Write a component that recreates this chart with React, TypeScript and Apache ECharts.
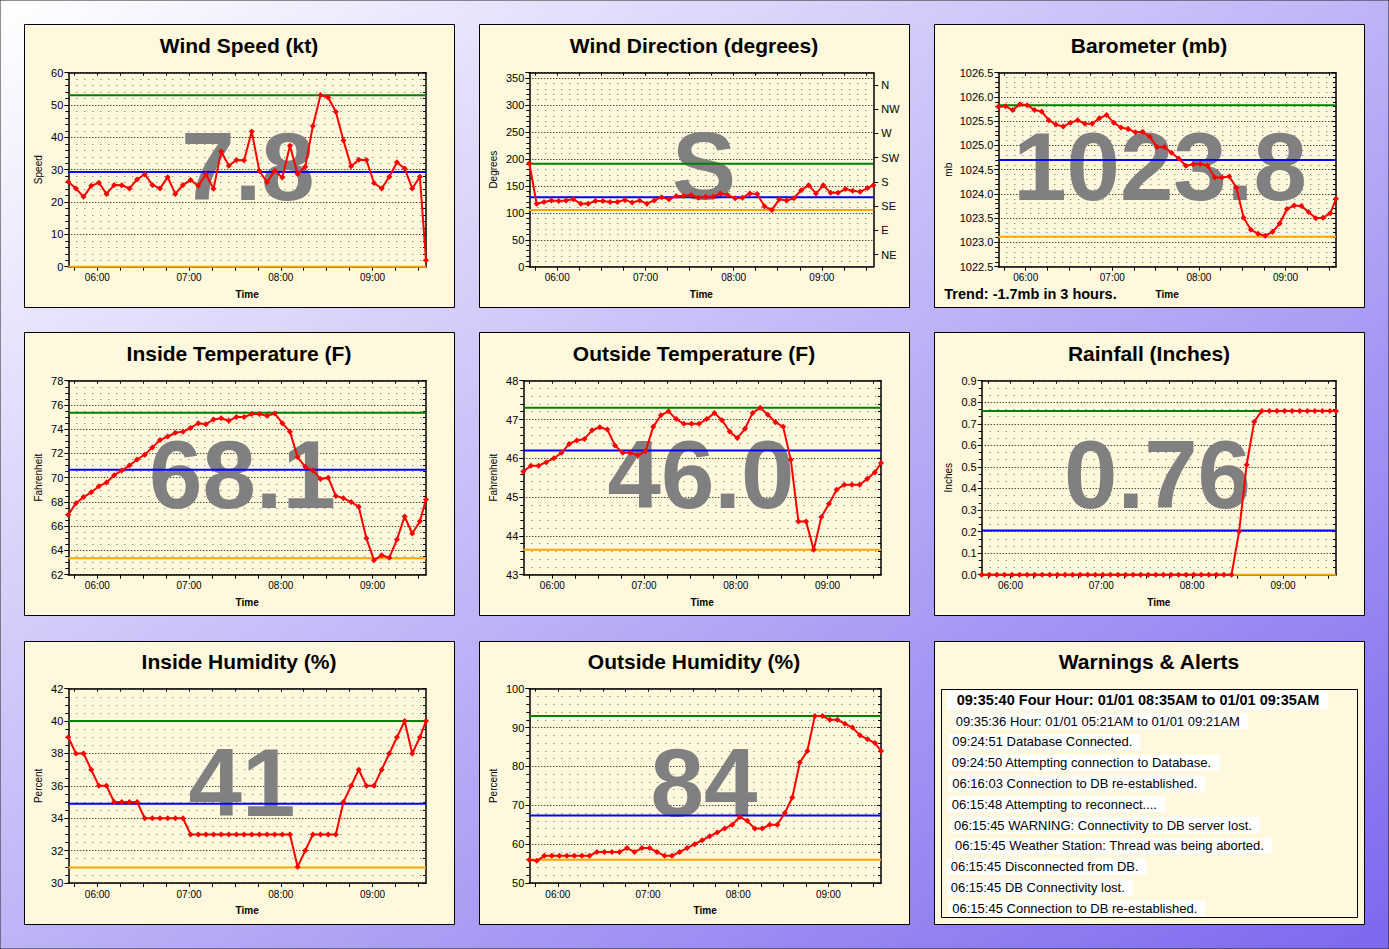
import React, { useEffect, useRef } from "react";
import * as echarts from "echarts";

// ---------- DATA ----------
const TIMES = [
  "05:41", "05:46", "05:51", "05:56",
  "06:01", "06:06", "06:11", "06:16", "06:21", "06:26", "06:31", "06:36", "06:41", "06:46", "06:51", "06:56",
  "07:01", "07:06", "07:11", "07:16", "07:21", "07:26", "07:31", "07:36", "07:41", "07:46", "07:51", "07:56",
  "08:01", "08:06", "08:11", "08:16", "08:21", "08:26", "08:31", "08:36", "08:41", "08:46", "08:51", "08:56",
  "09:01", "09:06", "09:11", "09:16", "09:21", "09:26", "09:31", "09:35",
];
const X_LABELS = ["06:00", "07:00", "08:00", "09:00"];

const WIND_SPEED = [
  26.3, 24.2, 21.6, 25, 26, 22.5, 25.3, 25.2, 24.2, 27,
  28.6, 25.3, 24.2, 27.7, 22.5, 25.3, 26.8, 25, 28.6, 24.1,
  35.6, 31.2, 33, 32.9, 41.8, 29.6, 26.1, 29.7, 27.6, 37.4,
  28.7, 30.9, 43.5, 53.1, 52.3, 47.9, 39, 31.1, 33.1, 33,
  25.9, 24.2, 27.8, 32.3, 30.4, 24.2, 27.8, 2,
];
const WIND_SPEED_REF = [53, 29.3, 0]; // max, average, min

const WIND_DIR = [
  192, 117, 120, 123, 122, 123, 125, 117, 117, 122,
  122, 120, 120, 124, 119, 123, 117, 123, 129, 125,
  131, 131, 133, 128, 130, 130, 136, 133, 127, 128,
  136, 135, 112, 105, 125, 123, 127, 142, 151, 136,
  151, 137, 137, 144, 141, 139, 146, 151,
];
const WIND_DIR_REF = [191, 129, 105];
const DIR_LABELS = ["NE", "E", "SE", "S", "SW", "W", "NW", "N"];
const DIR_VALUES = [22.5, 67.5, 112.5, 157.5, 202.5, 247.5, 292.5, 337.5];

const BAROMETER = [
  1025.8, 1025.81, 1025.73, 1025.85, 1025.83, 1025.73, 1025.7, 1025.52, 1025.43, 1025.39,
  1025.47, 1025.52, 1025.45, 1025.45, 1025.56, 1025.63, 1025.47, 1025.37, 1025.34, 1025.27,
  1025.28, 1025.18, 1024.97, 1024.97, 1024.85, 1024.73, 1024.58, 1024.61, 1024.62, 1024.58,
  1024.34, 1024.34, 1024.36, 1024.13, 1023.51, 1023.26, 1023.18, 1023.14, 1023.22, 1023.39,
  1023.69, 1023.76, 1023.75, 1023.63, 1023.5, 1023.51, 1023.6, 1023.9,
];
const BAROMETER_REF = [1025.83, 1024.7, 1023.12];
const TREND_TEXT = "Trend: -1.7mb in 3 hours.";

const INSIDE_TEMP = [
  66.95, 67.9, 68.4, 68.8, 69.3, 69.6, 70.2, 70.6, 71.0, 71.5,
  71.9, 72.5, 73.1, 73.4, 73.7, 73.8, 74.1, 74.5, 74.4, 74.8,
  74.9, 74.7, 75.0, 75.0, 75.25, 75.25, 75.1, 75.3, 74.5, 73.8,
  71.7, 70.9, 70.6, 69.9, 70.0, 68.5, 68.3, 68.0, 67.6, 65.0,
  63.2, 63.6, 63.4, 64.9, 66.8, 65.4, 66.4, 68.2,
];
const INSIDE_TEMP_REF = [75.35, 70.65, 63.35];

const OUTSIDE_TEMP = [
  45.66, 45.81, 45.81, 45.9, 46.0, 46.14, 46.37, 46.46, 46.5, 46.72,
  46.8, 46.74, 46.33, 46.14, 46.14, 46.08, 46.18, 46.81, 47.11, 47.21,
  47.01, 46.89, 46.89, 46.89, 47.01, 47.17, 46.98, 46.69, 46.52, 46.76,
  47.17, 47.3, 47.12, 46.93, 46.81, 45.96, 44.37, 44.37, 43.64, 44.49,
  44.83, 45.19, 45.32, 45.32, 45.32, 45.47, 45.64, 45.88,
];
const OUTSIDE_TEMP_REF = [47.3, 46.2, 43.64];

const RAINFALL = [
  0, 0, 0, 0, 0, 0, 0, 0, 0, 0,
  0, 0, 0, 0, 0, 0, 0, 0, 0, 0,
  0, 0, 0, 0, 0, 0, 0, 0, 0, 0,
  0, 0, 0, 0, 0.2, 0.51, 0.71, 0.76, 0.76, 0.76,
  0.76, 0.76, 0.76, 0.76, 0.76, 0.76, 0.76, 0.76,
];
const RAINFALL_REF = [0.76, 0.205, 0];

const INSIDE_HUM = [
  39, 38, 38, 37, 36, 36, 35, 35, 35, 35,
  34, 34, 34, 34, 34, 34, 33, 33, 33, 33,
  33, 33, 33, 33, 33, 33, 33, 33, 33, 33,
  31, 32, 33, 33, 33, 33, 35, 36, 37, 36,
  36, 37, 38, 39, 40, 38, 39, 40,
];
const INSIDE_HUM_REF = [40, 34.9, 30.95];

const OUTSIDE_HUM = [
  56, 55.7, 57, 57, 57, 57, 57, 57, 57, 58,
  58, 58, 58, 59, 58, 59, 59, 58, 57, 57,
  58, 59, 60, 61, 62, 63, 64, 65, 67, 66,
  64, 64, 65, 65, 68, 72, 81, 84, 93, 93,
  92, 92, 91, 90, 88, 87, 86, 84,
];
const OUTSIDE_HUM_REF = [93, 67.4, 56];

const ALERTS = [
  "09:35:40 Four Hour: 01/01 08:35AM to 01/01 09:35AM",
  "09:35:36 Hour: 01/01 05:21AM to 01/01 09:21AM",
  "09:24:51 Database Connected.",
  "09:24:50 Attempting connection to Database.",
  "06:16:03 Connection to DB re-established.",
  "06:15:48 Attempting to reconnect....",
  "06:15:45 WARNING: Connectivity to DB server lost.",
  "06:15:45 Weather Station: Thread was being aborted.",
  "06:15:45 Disconnected from DB.",
  "06:15:45 DB Connectivity lost.",
  "06:15:45 Connection to DB re-established.",
];

// ---------- CONFIG ----------
const CHARTS = [
  { title: "Wind Speed (kt)", yName: "Speed", values: WIND_SPEED, refs: WIND_SPEED_REF, big: "7.8", min: 0, max: 60, interval: 10, minor: 5, dec: 0 },
  { title: "Wind Direction (degrees)", yName: "Degrees", values: WIND_DIR, refs: WIND_DIR_REF, big: "S", min: 0, max: 360, interval: 50, minor: 5, dec: 0, hideMax: true, compass: true },
  { title: "Barometer (mb)", yName: "mb", values: BAROMETER, refs: BAROMETER_REF, big: "1023.8", min: 1022.5, max: 1026.5, interval: 0.5, minor: 5, dec: 1 },
  { title: "Inside Temperature (F)", yName: "Fahrenheit", values: INSIDE_TEMP, refs: INSIDE_TEMP_REF, big: "68.1", min: 62, max: 78, interval: 2, minor: 4, dec: 0 },
  { title: "Outside Temperature (F)", yName: "Fahrenheit", values: OUTSIDE_TEMP, refs: OUTSIDE_TEMP_REF, big: "46.0", min: 43, max: 48, interval: 1, minor: 5, dec: 0 },
  { title: "Rainfall (Inches)", yName: "Inches", values: RAINFALL, refs: RAINFALL_REF, big: "0.76", min: 0, max: 0.9, interval: 0.1, minor: 3, dec: 1 },
  { title: "Inside Humidity (%)", yName: "Percent", values: INSIDE_HUM, refs: INSIDE_HUM_REF, big: "41", min: 30, max: 42, interval: 2, minor: 4, dec: 0 },
  { title: "Outside Humidity (%)", yName: "Percent", values: OUTSIDE_HUM, refs: OUTSIDE_HUM_REF, big: "84", min: 50, max: 100, interval: 10, minor: 5, dec: 0 },
];

// layout (page px)
const LAYOUT = [
  { px: 24, py: 24, ty: 45.7, gl: 68.3, gt: 72.7, gr: 426, gb: 266.7, nx: 248, ny: 166 },
  { px: 479, py: 24, ty: 45.7, gl: 529.3, gt: 72.7, gr: 873.3, gb: 266.7, nx: 704, ny: 165 },
  { px: 934, py: 24, ty: 45.7, gl: 998.3, gt: 72.7, gr: 1336, gb: 266.7, nx: 1160, ny: 166 },
  { px: 24, py: 332, ty: 353.7, gl: 68.3, gt: 380.7, gr: 426, gb: 574.7, nx: 242.5, ny: 474 },
  { px: 479, py: 332, ty: 353.7, gl: 523.3, gt: 380.7, gr: 881, gb: 574.7, nx: 701, ny: 474 },
  { px: 934, py: 332, ty: 353.7, gl: 981.7, gt: 380.7, gr: 1336, gb: 574.7, nx: 1157.5, ny: 474 },
  { px: 24, py: 641, ty: 661.7, gl: 68.3, gt: 688.7, gr: 426, gb: 883, nx: 242, ny: 782 },
  { px: 479, py: 641, ty: 661.7, gl: 529.3, gt: 688.7, gr: 881, gb: 883, nx: 704, ny: 782 },
];
const ALERT_PANEL = { px: 934, py: 641, ty: 661.7 };
const ALERT_X = [956.7, 955.7, 952.3, 951.7, 952.3, 951.7, 954, 955, 950.7, 950.7, 952.3];

const W = 1389;
const H = 949;
const PANEL_W = 430;
const PANEL_H = 283;
const FONT = "'Liberation Sans', Arial, sans-serif";
const REF_COLORS = ["#008000", "#0000ff", "#ffa500"];

const toMin = (s: string) => {
  const [h, m] = s.split(":").map(Number);
  return h * 60 + m;
};
const fmtTime = (v: number) => {
  const h = Math.floor(v / 60);
  const m = Math.round(v - h * 60);
  return `${String(h).padStart(2, "0")}:${String(m).padStart(2, "0")}`;
};

function buildOption() {
  const X_MIN = toMin(TIMES[0]);
  const X_MAX = toMin(TIMES[TIMES.length - 1]);
  const xLabelVals = X_LABELS.map(toMin);
  const tick15: number[] = [];
  for (let m = Math.ceil(X_MIN / 15) * 15; m <= X_MAX; m += 15) tick15.push(m);

  const axisLine = { show: true, onZero: false, lineStyle: { color: "#000", width: 1.5 } };
  const grid: any[] = [];
  const xAxis: any[] = [];
  const yAxis: any[] = [];
  const series: any[] = [];
  const graphic: any[] = [];

  graphic.push({
    type: "rect", silent: true, z: -100,
    shape: { x: 0, y: 0, width: W, height: H },
    style: {
      fill: new echarts.graphic.LinearGradient(0, 0, 1, 1, [
        { offset: 0, color: "#ffffff" },
        { offset: 1, color: "#7b68ee" },
      ]),
      stroke: "#222", lineWidth: 1,
    },
  });

  const panels = [...LAYOUT.map((l) => ({ px: l.px, py: l.py })), ALERT_PANEL];
  panels.forEach((p) => {
    graphic.push({
      type: "rect", silent: true, z: -50,
      shape: { x: p.px + 0.5, y: p.py + 0.5, width: PANEL_W, height: PANEL_H },
      style: { fill: "#FFF8DC", stroke: "#000", lineWidth: 1 },
    });
  });

  CHARTS.forEach((c: any, i) => {
    const L = LAYOUT[i];
    grid.push({
      left: L.gl, top: L.gt, width: L.gr - L.gl, height: L.gb - L.gt,
      show: false, containLabel: false, outerBoundsMode: "none",
    });
    xAxis.push({
      type: "value", gridIndex: i, position: "bottom", min: X_MIN, max: X_MAX,
      axisLine,
      axisTick: { show: true, inside: false, length: 4, customValues: tick15, lineStyle: { color: "#000" } },
      axisLabel: { show: true, customValues: xLabelVals, formatter: (v: number) => fmtTime(v), fontSize: 10, color: "#000", fontFamily: FONT, margin: 6 },
      splitLine: { show: false },
      name: "Time", nameLocation: "middle", nameGap: 22.5,
      nameTextStyle: { fontSize: 10, fontWeight: "bold", color: "#000", fontFamily: FONT },
    });
    xAxis.push({
      type: "value", gridIndex: i, position: "top", min: X_MIN, max: X_MAX,
      axisLine,
      axisTick: { show: true, inside: true, length: 3, customValues: tick15, lineStyle: { color: "#000" } },
      axisLabel: { show: false },
      splitLine: { show: false },
    });
    yAxis.push({
      type: "value", gridIndex: i, position: "left", min: c.min, max: c.max, interval: c.interval,
      axisLine,
      axisTick: { show: true, inside: false, length: 4, lineStyle: { color: "#000" } },
      minorTick: { show: true, splitNumber: c.minor, length: 3, lineStyle: { color: "#000" } },
      axisLabel: {
        show: true, fontSize: 11, color: "#000", fontFamily: FONT, margin: 5,
        formatter: (v: number) => v.toFixed(c.dec), showMaxLabel: c.hideMax ? false : true,
      },
      splitLine: { show: true, lineStyle: { color: "#000", type: [1, 2], width: 1 } },
      minorSplitLine: { show: true, lineStyle: { color: "#666", type: [1, 7], width: 1 } },
      name: c.yName, nameLocation: "middle", nameRotate: 90, nameGap: L.gl - L.px - 19,
      nameTextStyle: { fontSize: 10, color: "#000", fontFamily: FONT },
    });
    if (c.compass) {
      yAxis.push({
        type: "value", gridIndex: i, position: "right", min: c.min, max: c.max,
        axisLine,
        axisTick: { show: true, inside: false, length: 5, customValues: DIR_VALUES, lineStyle: { color: "#000" } },
        axisLabel: {
          show: true, customValues: DIR_VALUES, fontSize: 11, color: "#000", fontFamily: FONT, margin: 8,
          formatter: (v: number) => {
            let best = 0;
            DIR_VALUES.forEach((d, k) => { if (Math.abs(d - v) < Math.abs(DIR_VALUES[best] - v)) best = k; });
            return DIR_LABELS[best];
          },
        },
        splitLine: { show: false },
      });
    } else {
      yAxis.push({
        type: "value", gridIndex: i, position: "right", min: c.min, max: c.max, interval: c.interval,
        axisLine,
        axisTick: { show: true, inside: true, length: 4, lineStyle: { color: "#000" } },
        minorTick: { show: true, splitNumber: c.minor, length: 3, lineStyle: { color: "#000" } },
        axisLabel: { show: false },
        splitLine: { show: false },
      });
    }

    c.refs.forEach((v: number, k: number) => {
      series.push({
        type: "line", xAxisIndex: 2 * i, yAxisIndex: 2 * i, z: 3, clip: false, silent: true,
        showSymbol: false, data: [[X_MIN, v], [X_MAX, v]],
        lineStyle: { color: REF_COLORS[k], width: 2 },
      });
    });
    series.push({
      type: "line", xAxisIndex: 2 * i, yAxisIndex: 2 * i, z: 4, clip: false, silent: true,
      data: TIMES.map((t, k) => [toMin(t), c.values[k]]),
      symbol: "diamond", symbolSize: 6, showAllSymbol: true,
      lineStyle: { color: "#ff0000", width: 2 },
      itemStyle: { color: "#ff0000" },
    });

    graphic.push({
      type: "text", silent: true, z: -40, x: L.px + PANEL_W / 2, y: L.ty,
      style: { text: c.title, fill: "#000", fontSize: 21, fontWeight: "bold", fontFamily: FONT, align: "center", verticalAlign: "middle" },
    });
    graphic.push({
      type: "text", silent: true, z: 1, x: L.nx, y: L.ny,
      style: { text: c.big, fill: "#808080", fontSize: 96, fontWeight: "bold", fontFamily: FONT, align: "center", verticalAlign: "middle" },
    });
  });

  graphic.push({
    type: "text", silent: true, z: -40, x: 944.3, y: 294.3,
    style: { text: TREND_TEXT, fill: "#000", fontSize: 14.5, fontWeight: "bold", fontFamily: FONT, align: "left", verticalAlign: "middle" },
  });

  // Warnings panel
  graphic.push({
    type: "text", silent: true, z: -40, x: ALERT_PANEL.px + PANEL_W / 2, y: ALERT_PANEL.ty,
    style: { text: "Warnings & Alerts", fill: "#000", fontSize: 21, fontWeight: "bold", fontFamily: FONT, align: "center", verticalAlign: "middle" },
  });
  graphic.push({
    type: "rect", silent: true, z: -40,
    shape: { x: 941.5, y: 689.5, width: 416, height: 228 },
    style: { fill: "none", stroke: "#000", lineWidth: 1 },
  });
  ALERTS.forEach((t, k) => {
    const pad = k === 0 ? [2, 9, 2, 10] : [2, 8, 1, 4];
    graphic.push({
      type: "text", silent: true, z: -30, x: ALERT_X[k] - pad[3], y: 700.3 + k * 20.8,
      style: {
        text: t, fill: "#000", fontSize: k === 0 ? 14.5 : 13, fontWeight: k === 0 ? "bold" : "normal",
        fontFamily: FONT, align: "left", verticalAlign: "middle", backgroundColor: "#ffffff", padding: pad,
      },
    });
  });

  return {
    animation: false,
    backgroundColor: "transparent",
    textStyle: { fontFamily: FONT },
    grid, xAxis, yAxis, series, graphic,
  };
}

export default function App() {
  const ref = useRef<HTMLDivElement>(null);
  useEffect(() => {
    document.body.style.margin = "0";
    const chart = echarts.init(ref.current as HTMLDivElement, null, { renderer: "svg", width: W, height: H });
    chart.setOption(buildOption() as any);
    return () => chart.dispose();
  }, []);
  return <div ref={ref} style={{ position: "absolute", left: 0, top: 0, width: W, height: H }} />;
}
